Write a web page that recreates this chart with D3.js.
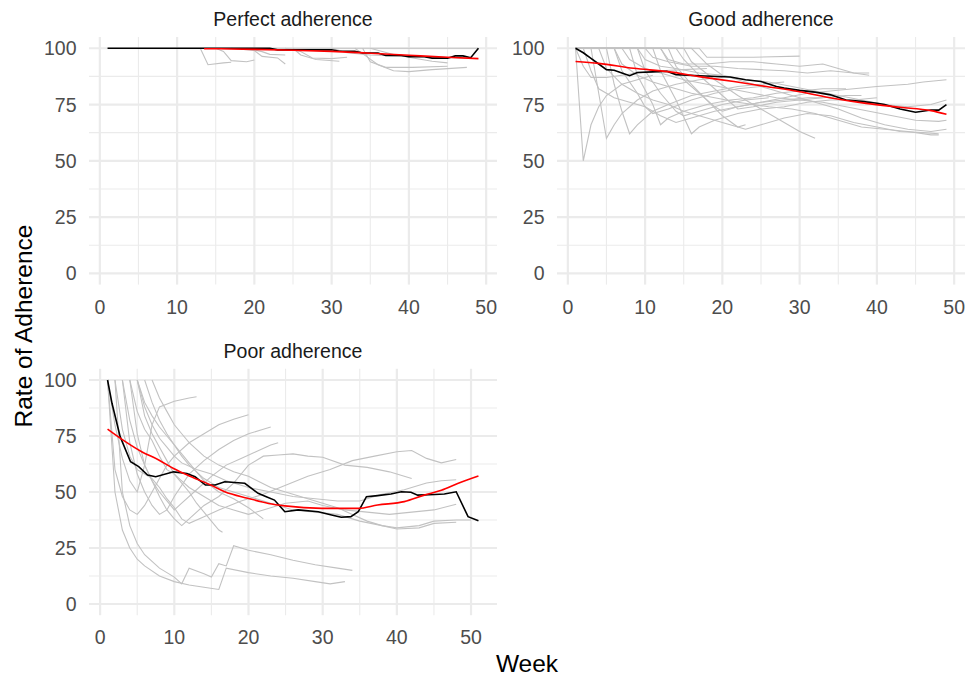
<!DOCTYPE html>
<html>
<head>
<meta charset="utf-8">
<script src="https://cdn.jsdelivr.net/npm/d3@7"></script>
<style>
  body { margin: 0; background: #fff; }
  svg text { font-family: "Liberation Sans", Arial, sans-serif; }
</style>
</head>
<body>
<div id="viz"></div>
<script>
var width = 968;
var height = 679;

// tick labels
var xTicks = [0, 10, 20, 30, 40, 50];
var yTicks = [0, 25, 50, 75, 100];
var yLimits = [0, 100];

// ---- Perfect adherence ----
var perfectMean = [[1,100],[22,100],[23,99.3],[30,99.3],[31,98.7],[33,98.7],[34,97.9],[36,97.9],[37,96.8],[39,96.8],
  [40,96.2],[42,96.2],[43,95.6],[45,95.6],[46,96.6],[47,96.6],[48,95.8],[49,100]];
var perfectSmooth = [[13.5,99.8],[17,99.7],[20,99.5],[25,99.1],[30,98.6],[35,97.8],[40,96.9],[45,96.0],[49,95.4]];
var perfectCohorts = [
  [[13,100],[49,100]],
  [[13,100],[14,92.7],[16,93.5],[17,93.8]],
  [[15,100],[16,98.6],[17,94.5],[19,94],[20,94.8]],
  [[17,100],[20,99],[21,96.4],[23,95.7],[24,93]],
  [[19,100],[21,98.5],[22,97.3],[24,97]],
  [[24,100],[26,98.6],[27.5,95.7],[30,95.4],[32,96]],
  [[25,100],[26,97],[28,95],[31,94.2]],
  [[30,100],[32,98],[35,97],[39,96.5],[44,96],[48,95.5]],
  [[33,100],[34.5,96.4],[36,92.7],[38,90],[40,89.6],[43,90.5],[47.5,91.5]],
  [[34,100],[35,94],[37,91.5],[40.5,91.5],[45,92]],
  [[35,100],[38,97.2],[40.5,95.7],[43,94.2],[45,93.5]]
];

// ---- Good adherence ----
var goodMean = [[1,100],[2,98],[3,95.5],[4,93],[5,90.5],[6,90.2],[7,89],[8,87.8],[9,89.2],[11,89.5],[12.8,89.8],
  [14,88.3],[17,87.8],[21,87.2],[23,86],[25,85.2],[27,83],[28,82.3],[30,81.3],[32,80.5],[34,79.3],[36,77],
  [38,76.4],[40,75.6],[41,75],[43,73],[45,71.6],[47,72.6],[48,72.5],[49,75]];
var goodSmooth = [[1,94.1],[4,93.3],[8.5,91.1],[13,89.6],[17,87.4],[21.5,85.2],[25.7,83],[30,80.7],[34.3,77.8],
  [38.6,75.5],[43,73.8],[47,72.3],[49,70.7]];
var goodCohorts = [
  [[1,100],[2,50],[3,66],[4,74],[5,79],[7,84],[9,86],[11,88]],
  [[1,100],[3,100],[4,80],[5,60],[6,66],[7,71],[9,77],[11,81],[14,84],[17,86],[20,87]],
  [[1,100],[5,100],[6,84],[7,72],[8,62],[9,66],[11,72],[13,75],[16,79],[19,81],[22,83],[25,84],[28,85]],
  [[1,100],[8,100],[9,88],[11,75],[12,66],[13,69],[15,72],[18,75],[21,77],[24,78],[27,80],[30,81],[33,82],[36,82]],
  [[1,100],[11,100],[12,90],[14,77],[16,62],[17,65],[19,68],[22,71],[25,73],[28,74],[31,76],[34,77],[37,77],[40,78]],
  [[1,100],[13,100],[14,92],[16,84],[18,77],[20,70],[22,65],[23,66]],
  [[1,100],[15,100],[16,94],[19,86],[22,79],[25,73],[28,67],[30,63],[32,60]],
  [[1,100],[17,100],[18,96],[24,96],[30,96.5]],
  [[1,100],[2,100],[3,90],[4,82],[6,78],[8,76],[10,74],[12,70],[14,67],[16,69],[19,72],[22,74],[25,76],[28,78],
    [31,80],[34,81],[37,82],[40,83],[44,84],[46,85],[49,86]],
  [[1,100],[4,100],[5,91],[7,84],[9,80],[11,77],[13,75],[15,72],[17,70],[19,68],[21,66],[23,64],[25,66],[28,69],
    [31,71],[34,70],[37,67],[40,65],[43,63],[46,62.5],[48,62]],
  [[1,100],[6,100],[7,93],[9,88],[11,85],[13,83],[16,80],[19,78],[22,76],[26,74],[29,73],[32,71],[35,68],[38,65],
    [41,64],[44,63],[47,61.5],[48,61.5]],
  [[1,100],[7,100],[8,95],[10,91],[12,89],[15,86],[18,84],[21,82],[24,80],[27,78],[30,77],[33,76],[36,74],[39,72],
    [42,70],[45,68],[48,67.5],[49,68]],
  [[1,100],[9,100],[10,95],[12,92],[14,91],[17,89],[20,88],[23,86],[26,85],[29,83],[32,81],[35,79],[38,77],[41,75],
    [44,74],[47,75],[49,77]],
  [[1,100],[10,100],[11,96],[13,94],[16,92],[19,92],[22,91],[25,90.5],[28,90],[31,89],[34,90],[37,89],[39,89]],
  [[1,100],[12,100],[13,95],[15,93],[18,93],[21,94],[24,94],[27,93],[30,92],[33,93],[35,91],[37,89],[39,88]],
  [[1,100],[16,100],[18,93],[20,88],[23,85],[26,82],[29,79],[32,76],[35,73],[38,69],[41,66],[44,64],[47,63],[49,64]],
  [[1,100],[2,92],[3,87],[5,87],[7,88],[9,89],[12,90],[15,90.5],[18,91]],
  [[1,100],[9,100],[10,90],[12,80],[14,72],[15,70],[17,72],[20,75],[23,77],[26,78]],
  [[1,100],[14,100],[15,95],[17,88],[19,82],[21,76],[22,73],[24,74],[27,76],[30,77],[33,78],[36,79],[38,79]],
  [[1,100],[6,100],[7,90],[9,80],[10,74],[11,71],[13,73],[16,77],[19,80],[22,82],[25,83]],
  [[1,100],[12,100],[13,94],[15,86],[17,80],[19,74],[20,72],[22,74],[25,76],[28,77],[31,78],[33,78]]
];

// ---- Poor adherence ----
var poorMean = [[1,100],[1.6,89.6],[2.7,74.7],[4.1,63.5],[5.2,61.3],[6.4,57.6],[7.5,56.8],[9.9,59],[11.7,58.3],
  [12.8,56.8],[14.2,53.1],[15.5,53.1],[16.8,54.6],[19.5,53.9],[21.3,49.4],[22.4,47.9],[23.5,46.4],[24.9,41.2],
  [26.7,42],[29.4,41.2],[31.2,39.7],[32.5,38.7],[33.8,39],[34.8,41.2],[35.9,47.9],[37.4,48.4],[39.2,49.1],
  [40.6,50.1],[41.9,49.9],[42.8,48.6],[45.1,48.9],[46.4,49.1],[48,50.1],[49.6,39],[51,37.2]];
var poorSmooth = [[1,78.1],[3.4,72.5],[5.6,68],[7.9,64.3],[9.9,60.5],[12.3,56.8],[14.9,53.1],[16.8,50.1],
  [19.9,47.2],[22.7,44.9],[24.9,43.8],[29.9,42.7],[34.8,42.7],[37.4,44.2],[41,45.7],[43.7,48.6],[46,50.8],
  [48.2,53.8],[51,57.1]];
var poorCohorts = [
  [[1,100],[2,50],[3,33],[4,25],[5,20],[6,17],[8,12.5],[10,10],[12,8.5],[14,7.5],[16,6.5],[17,16],[20,14],
    [23,12.5],[26,11.5],[29,10],[31,9],[33,10]],
  [[2,100],[3,50],[4,35],[5,27],[6,22],[8,16],[10,12],[11,9],[12,16],[14,13.5],[15,12],[16,18],[17,17],[18,26],
    [20,24],[23,22],[26,19.5],[29,17.5],[32,16],[34,15]],
  [[1,100],[2,60],[3,48],[4,42],[5,40],[6,44],[7,50],[8,56],[9,62],[10,66],[12,72],[14,76],[16,80],[18,82.5],[20,84.5]],
  [[1,100],[2,80],[3,65],[4,55],[5,50],[6,62],[7,80],[8,88],[10,90.5],[12,92],[13,92.5]],
  [[3,100],[4,72],[5,58],[6,50],[7,44],[8,40],[9,42],[10,48],[12,58],[14,64],[16,69],[18,73],[20,76],[22,78],[23,79]],
  [[4,100],[5,76],[6,62],[7,55],[8,50],[9,46],[10,42],[11,45],[13,51],[15,57],[17,62],[19,65],[21,68],[23,71],[24,72]],
  [[5,100],[6,84],[7,76],[8,70],[9,64],[10,58],[11,54],[12,50],[13,45],[14,41],[15,37],[16,33],[16.5,32]],
  [[5,100],[6,90],[7,84],[8,79],[9,75],[10,71],[11,67],[12,63],[13,59],[14,55],[16,50],[18,47],[20,43],[22,38]],
  [[3,100],[4,82],[5,70],[6,62],[7,55],[8,48],[9,42],[10,38],[11,35],[12,38],[14,44],[16,48],[18,54],[20,62],
    [22,66],[24,66.5],[26,67],[28,66],[30,65.5],[33,62],[36,61],[39,59],[42,56]],
  [[2,100],[3,78],[4,66],[5,60],[6,58],[7,56],[8,52],[9,47],[10,43],[11,38],[12,36],[14,39],[16,42],[19,46],
    [22,49],[25,53],[28,57],[31,60],[34,64],[37,66],[40,68],[42,68.5],[44,65],[46,63],[48,64.5]],
  [[4,100],[5,86],[6,78],[7,73],[8,66],[9,60],[10,58],[11,55],[12,52],[14,48],[16,44],[18,42],[20,40],[22,42],
    [25,45],[28,46],[30,44],[33,42],[36,41],[39,40],[42,41],[45,42],[48,44.5]],
  [[6,100],[7,90],[8,82],[9,76],[10,71],[11,66],[12,62],[14,56],[16,52],[18,50],[20,48],[23,45],[26,42],[29,41],
    [32,40],[35,37],[38,35],[40,34],[43,35],[45,37],[48,37.5],[50,37.5]],
  [[5,100],[6,88],[7,80],[8,74],[9,70],[10,66],[11,63],[13,60],[15,58],[17,55],[20,52],[23,50],[26,48],[29,47],
    [32,46],[35,46],[38,49],[41,51],[44,54],[46,55],[48,55.5]],
  [[7,100],[8,92],[9,86],[10,80],[11,76],[12,72],[13,69],[14,66],[16,62],[18,59],[20,57],[23,52],[26,49],[29,46],
    [32,43],[34,40],[36,37],[38,35],[40,33.5],[43,34],[45,36],[48,36.5]]
];

var panelTitles = ["Perfect adherence", "Good adherence", "Poor adherence"];

var svg = d3.select("#viz")
  .append("svg")
  .attr("width", width)
  .attr("height", height);

// panel boxes
var panels = [
  {title: panelTitles[0], cohorts: perfectCohorts, mean: perfectMean, smooth: perfectSmooth, left: 89, right: 497, top: 37, bottom: 284.6},
  {title: panelTitles[1], cohorts: goodCohorts, mean: goodMean, smooth: goodSmooth, left: 557, right: 965, top: 37, bottom: 284.6},
  {title: panelTitles[2], cohorts: poorCohorts, mean: poorMean, smooth: poorSmooth, left: 89, right: 497, top: 368.8, bottom: 615.2}
];

function expand(ext) {
  var pad = (ext[1] - ext[0]) * 0.05;
  return [ext[0] - pad, ext[1] + pad];
}

panels.forEach(function(p) {
  var allPts = d3.merge(p.cohorts.concat([p.mean, p.smooth]));
  var x = d3.scaleLinear()
    .domain(expand(d3.extent(allPts, function(d) { return d[0]; })))
    .range([p.left, p.right]);
  var y = d3.scaleLinear()
    .domain(expand(yLimits))
    .range([p.bottom, p.top]);

  var g = svg.append("g");

  // minor grid
  var xMinor = xTicks.slice(0, -1).map(function(t, i) { return (t + xTicks[i + 1]) / 2; })
    .filter(function(t) { return t > x.domain()[0] && t < x.domain()[1]; });
  var yMinor = yTicks.slice(0, -1).map(function(t, i) { return (t + yTicks[i + 1]) / 2; });

  g.selectAll(".xminor").data(xMinor).enter().append("line")
    .attr("x1", function(d) { return x(d); }).attr("x2", function(d) { return x(d); })
    .attr("y1", p.top).attr("y2", p.bottom)
    .attr("stroke", "#ebebeb").attr("stroke-width", 1.1);
  g.selectAll(".yminor").data(yMinor).enter().append("line")
    .attr("y1", function(d) { return y(d); }).attr("y2", function(d) { return y(d); })
    .attr("x1", p.left).attr("x2", p.right)
    .attr("stroke", "#ebebeb").attr("stroke-width", 1.1);

  // major grid
  g.selectAll(".xmajor").data(xTicks).enter().append("line")
    .attr("x1", function(d) { return x(d); }).attr("x2", function(d) { return x(d); })
    .attr("y1", p.top).attr("y2", p.bottom)
    .attr("stroke", "#ebebeb").attr("stroke-width", 2.2);
  g.selectAll(".ymajor").data(yTicks).enter().append("line")
    .attr("y1", function(d) { return y(d); }).attr("y2", function(d) { return y(d); })
    .attr("x1", p.left).attr("x2", p.right)
    .attr("stroke", "#ebebeb").attr("stroke-width", 2.2);

  var line = d3.line()
    .x(function(d) { return x(d[0]); })
    .y(function(d) { return y(d[1]); });

  g.selectAll(".cohort").data(p.cohorts).enter().append("path")
    .attr("d", line)
    .attr("fill", "none")
    .attr("stroke", "#c2c2c2")
    .attr("stroke-width", 1.1);

  g.append("path")
    .attr("d", line(p.mean))
    .attr("fill", "none")
    .attr("stroke", "#000")
    .attr("stroke-width", 1.6);

  g.append("path")
    .attr("d", line.curve(d3.curveMonotoneX)(p.smooth))
    .attr("fill", "none")
    .attr("stroke", "#ff0000")
    .attr("stroke-width", 1.6);

  // tick labels
  g.selectAll(".xlab").data(xTicks).enter().append("text")
    .attr("x", function(d) { return x(d); })
    .attr("y", p.bottom + 29)
    .attr("text-anchor", "middle")
    .style("font-size", "19.5px")
    .style("fill", "#4d4d4d")
    .text(function(d) { return d; });

  g.selectAll(".ylab").data(yTicks).enter().append("text")
    .attr("x", p.left - 12.5)
    .attr("y", function(d) { return y(d); })
    .attr("dy", "0.36em")
    .attr("text-anchor", "end")
    .style("font-size", "19.5px")
    .style("fill", "#4d4d4d")
    .text(function(d) { return d; });

  // strip title
  g.append("text")
    .attr("x", (p.left + p.right) / 2)
    .attr("y", p.top - 11)
    .attr("text-anchor", "middle")
    .style("font-size", "19.5px")
    .style("fill", "#1a1a1a")
    .text(p.title);
});

svg.append("text")
  .attr("x", 527)
  .attr("y", 672)
  .attr("text-anchor", "middle")
  .style("font-size", "24.5px")
  .style("fill", "#000")
  .text("Week");

svg.append("text")
  .attr("transform", "translate(32,326) rotate(-90)")
  .attr("text-anchor", "middle")
  .style("font-size", "24.5px")
  .style("fill", "#000")
  .text("Rate of Adherence");
</script>
</body>
</html>
